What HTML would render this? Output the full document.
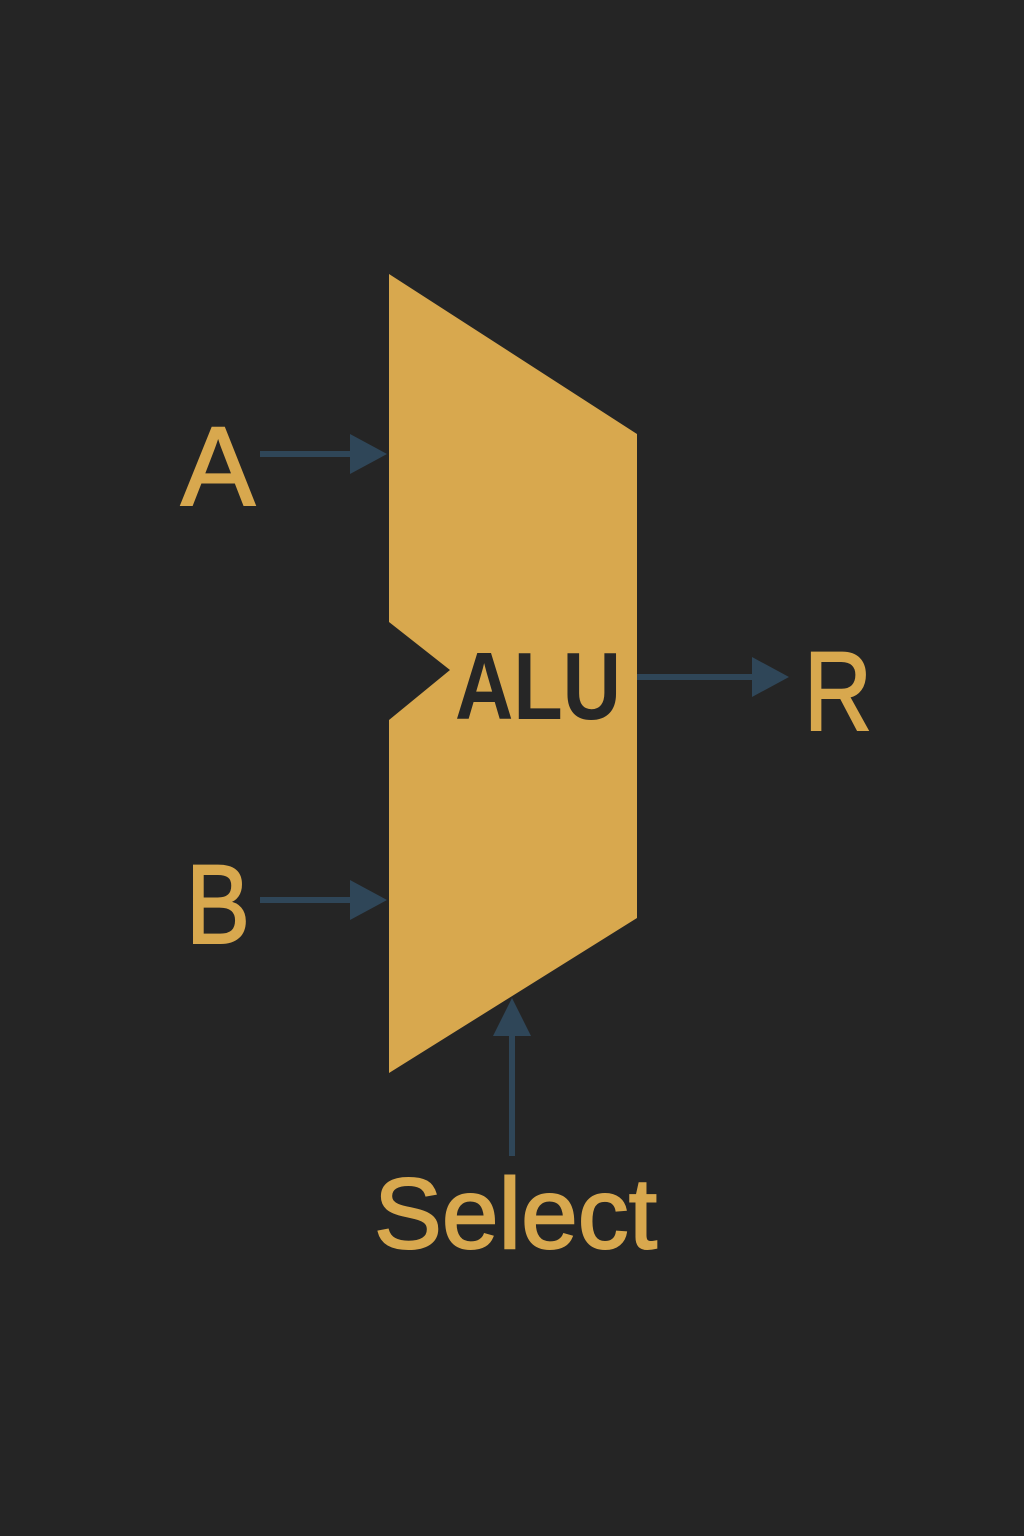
<!DOCTYPE html>
<html>
<head>
<meta charset="utf-8">
<style>
html,body{margin:0;padding:0;background:#252525;}
svg{display:block;}
text{font-family:"Liberation Sans",sans-serif;}
.lbl{stroke:#d8a84e;stroke-width:2;}
</style>
</head>
<body>
<svg width="1024" height="1536" viewBox="0 0 1024 1536">
  <rect x="0" y="0" width="1024" height="1536" fill="#252525"/>
  <polygon points="389,274 637,434 637,918 389,1073 389,720 450,670 389,622" fill="#d8a84e"/>
  <text x="455" y="719" font-size="96" font-weight="bold" fill="#262626" textLength="166" lengthAdjust="spacingAndGlyphs">ALU</text>

  <g fill="#2f4658" stroke="#2f4658">
    <line x1="260" y1="454" x2="352" y2="454" stroke-width="6"/>
    <polygon points="350,434 387,454 350,474" stroke="none"/>
  </g>
  <text class="lbl" x="181" y="505" font-size="112" fill="#d8a84e" textLength="74" lengthAdjust="spacingAndGlyphs">A</text>

  <g fill="#2f4658" stroke="#2f4658">
    <line x1="260" y1="900" x2="352" y2="900" stroke-width="6"/>
    <polygon points="350,880 387,900 350,920" stroke="none"/>
  </g>
  <text class="lbl" x="186" y="943" font-size="112" fill="#d8a84e" textLength="64" lengthAdjust="spacingAndGlyphs">B</text>

  <g fill="#2f4658" stroke="#2f4658">
    <line x1="637" y1="677" x2="754" y2="677" stroke-width="6"/>
    <polygon points="752,657 789,677 752,697" stroke="none"/>
  </g>
  <text class="lbl" x="804" y="730" font-size="112" fill="#d8a84e" textLength="68" lengthAdjust="spacingAndGlyphs">R</text>

  <g fill="#2f4658" stroke="#2f4658">
    <line x1="512" y1="1156" x2="512" y2="1033" stroke-width="6"/>
    <polygon points="493,1036 512,998 531,1036" stroke="none"/>
  </g>
  <text class="lbl" x="374" y="1248" font-size="100" fill="#d8a84e" textLength="283" lengthAdjust="spacingAndGlyphs">Select</text>
</svg>
</body>
</html>
